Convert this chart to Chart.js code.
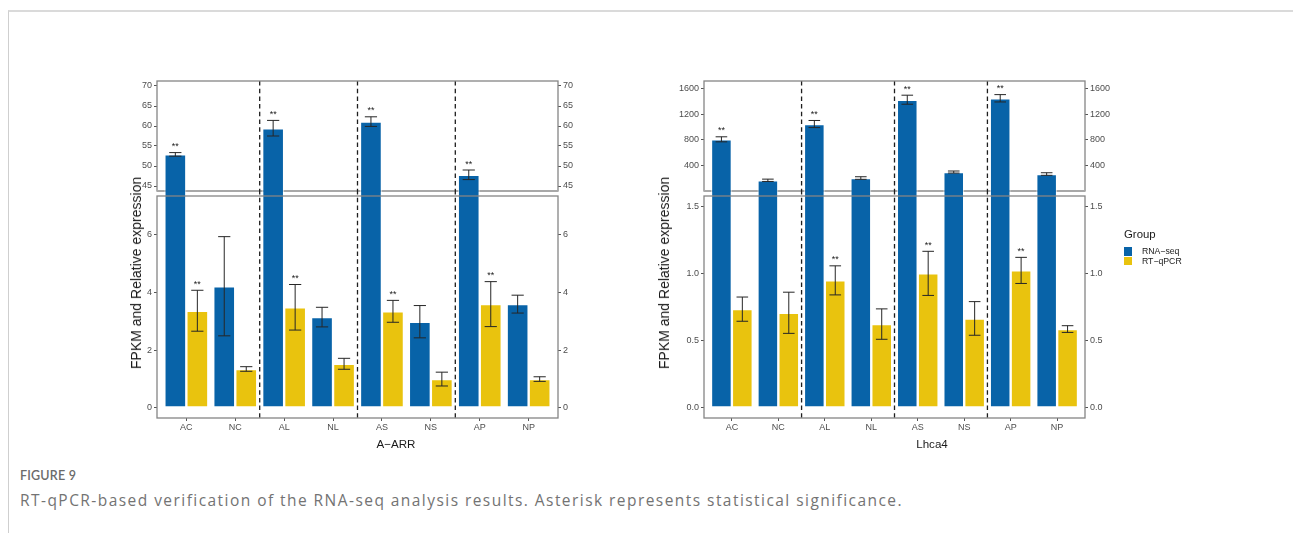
<!DOCTYPE html>
<html>
<head>
<meta charset="utf-8">
<script src="https://cdn.jsdelivr.net/npm/chart.js@4.4.1/dist/chart.umd.min.js"></script>
<style>
  html, body { margin: 0; padding: 0; background: #fff; }
  body { width: 1293px; height: 533px; position: relative; overflow: hidden;
         font-family: "Liberation Sans", Arial, sans-serif; }
  .frame { position: absolute; left: 8px; top: 10px; width: 1300px; height: 540px;
           border-top: 2px solid #dadada; border-left: 1px solid #cfcfcf; }
  canvas.panel { position: absolute; }
  .ytitle { position: absolute; font-size: 14px; line-height: 14px; color: #1a1a1a; white-space: nowrap;
            transform: translate(-50%, -50%) rotate(-90deg); }
  .xtitle { position: absolute; font-size: 11.6px; line-height: 12px; color: #1a1a1a; white-space: nowrap;
            transform: translate(-50%, -50%); }
  .legend { position: absolute; left: 1124px; top: 228px; color: #1a1a1a; }
  .legend .ttl { font-size: 11.4px; line-height: 13px; margin-bottom: 5.5px; }
  .legend .item { display: flex; align-items: center; height: 9.6px; font-size: 8.7px; }
  .legend .key { width: 8px; height: 8.6px; margin-right: 10px; }
  .figlabel { position: absolute; left: 20px; top: 468px; font-family: Lato, "Open Sans", sans-serif;
              font-size: 12.5px; font-weight: 600; color: #6b6b6b; letter-spacing: 0.2px; }
  .caption { position: absolute; left: 20px; top: 489px; font-family: "Open Sans", sans-serif;
             font-size: 15.5px; color: #737373; white-space: nowrap; }
</style>
</head>
<body>
<div class="frame"></div>

<canvas id="arrTop" class="panel"></canvas>
<canvas id="arrBottom" class="panel"></canvas>
<canvas id="lhcaTop" class="panel"></canvas>
<canvas id="lhcaBottom" class="panel"></canvas>

<div class="ytitle" style="left:136px; top:273px;">FPKM and Relative expression</div>
<div class="ytitle" style="left:664px; top:273px;">FPKM and Relative expression</div>
<div class="xtitle" style="left:396px; top:444px;">A−ARR</div>
<div class="xtitle" style="left:932px; top:444px;">Lhca4</div>

<div class="legend" id="legend"></div>

<div class="figlabel">FIGURE 9</div>
<div class="caption" id="caption">RT-qPCR-based verification of the RNA-seq analysis results. Asterisk represents statistical significance.</div>

<script>
// ---- data -------------------------------------------------------------
const categories = ['AC', 'NC', 'AL', 'NL', 'AS', 'NS', 'AP', 'NP'];
const seriesNames = ['RNA−seq', 'RT−qPCR'];
const seriesColors = ['#0863a8', '#e9c30e'];

// A-ARR
const arrRnaSeq     = [52.9, 4.22, 59.45, 3.15, 61.1, 2.99, 47.8, 3.60];
const arrRnaSeqErr  = [0.45, 1.72, 1.95, 0.34, 1.2, 0.56, 1.2, 0.31];
const arrRnaSeqSig  = ['**', '', '**', '', '**', '', '**', ''];
const arrQpcr       = [3.37, 1.35, 3.49, 1.53, 3.35, 1.00, 3.60, 1.00];
const arrQpcrErr    = [0.71, 0.08, 0.79, 0.19, 0.38, 0.24, 0.78, 0.08];
const arrQpcrSig    = ['**', '', '**', '', '**', '', '**', ''];
const arrTopTicks    = [45, 50, 55, 60, 65, 70];
const arrBottomTicks = [0, 2, 4, 6];

// Lhca4
const lhcaRnaSeq    = [809, 174, 1046, 209, 1423, 302, 1445, 271];
const lhcaRnaSeqErr = [39, 18, 55, 20, 70, 16, 57, 20];
const lhcaRnaSeqSig = ['**', '', '**', '', '**', '', '**', ''];
const lhcaQpcr      = [0.734, 0.707, 0.948, 0.623, 1.0, 0.665, 1.022, 0.586];
const lhcaQpcrErr   = [0.09, 0.153, 0.108, 0.113, 0.164, 0.125, 0.097, 0.025];
const lhcaQpcrSig   = ['', '', '**', '', '**', '', '**', ''];
const lhcaTopTicks    = [400, 800, 1200, 1600];
const lhcaBottomTicks = [0, 0.5, 1, 1.5];
const lhcaBottomTickLabels = ['0.0', '0.5', '1.0', '1.5'];

// vertical dashed separators sit between the pairs
const separators = [2.5, 4.5, 6.5];

// ---- drawing helpers ---------------------------------------------------
const FONT = '"Liberation Sans", Arial, sans-serif';
const TICK_COLOR = '#4d4d4d';

// error bars, significance marks, separators and the panel frame
const panelDecor = {
  id: 'panelDecor',
  afterDatasetsDraw(chart, args, o) {
    const { ctx, chartArea: a } = chart;
    const x = chart.scales.x, y = chart.scales.y;

    // dashed separators (may extend into the gap between stacked panels)
    ctx.save();
    ctx.beginPath();
    ctx.rect(a.left, a.top - o.extendTop, a.width, a.height + o.extendTop);
    ctx.clip();
    ctx.strokeStyle = '#1e1e1e';
    ctx.lineWidth = 1.3;
    ctx.setLineDash([4.5, 3.2]);
    separators.forEach(v => {
      const px = x.getPixelForValue(v);
      ctx.beginPath();
      ctx.moveTo(px, a.top - o.extendTop);
      ctx.lineTo(px, a.bottom);
      ctx.stroke();
    });
    ctx.restore();

    // error bars + asterisks, clipped to the panel
    ctx.save();
    ctx.beginPath();
    ctx.rect(a.left, a.top, a.width, a.height);
    ctx.clip();
    const half = x.getPixelForValue(1.125) - x.getPixelForValue(1);
    chart.data.datasets.forEach((ds, di) => {
      const meta = chart.getDatasetMeta(di);
      meta.data.forEach((bar, i) => {
        const v = ds.data[i].y, e = ds.errors[i];
        const yHi = y.getPixelForValue(v + e);
        const yLo = y.getPixelForValue(v - e);
        const bx = bar.x;
        ctx.strokeStyle = '#262626';
        ctx.lineWidth = 1;
        ctx.beginPath();
        ctx.moveTo(bx, yHi); ctx.lineTo(bx, yLo);
        ctx.moveTo(bx - half, yHi); ctx.lineTo(bx + half, yHi);
        ctx.moveTo(bx - half, yLo); ctx.lineTo(bx + half, yLo);
        ctx.stroke();
        // a mark belongs to this panel only when its error bar top is inside the range
        if (ds.marks[i] && v + e >= y.min && v + e <= y.max) {
          ctx.fillStyle = '#1a1a1a';
          ctx.font = '9px ' + FONT;
          ctx.textAlign = 'center';
          ctx.textBaseline = 'alphabetic';
          ctx.fillText(ds.marks[i], bx, yHi - 3.5);
        }
      });
    });
    ctx.restore();
  },
  afterDraw(chart, args, o) {
    const { ctx, chartArea: a } = chart;
    ctx.save();
    ctx.strokeStyle = o.frameColor;
    ctx.lineWidth = 1.3;
    ctx.strokeRect(a.left, a.top, a.width, a.height);
    if (o.bottomHeavy) {
      ctx.strokeStyle = '#a8a8a8';
      ctx.lineWidth = 2;
      ctx.beginPath();
      ctx.moveTo(a.left, a.bottom);
      ctx.lineTo(a.right, a.bottom);
      ctx.stroke();
    }
    ctx.restore();
  }
};

function buildDatasets(values, errors, marks, clip) {
  return values.map((vals, s) => ({
    label: seriesNames[s],
    data: vals.map((v, i) => ({ x: i + 1, y: v })),
    errors: errors[s],
    marks: marks[s],
    backgroundColor: seriesColors[s],
    borderColor: 'rgba(255,255,255,0.55)',
    borderWidth: 1.2,
    borderSkipped: false,
    categoryPercentage: 0.9,
    barPercentage: 1.0,
    clip
  }));
}

function yAxis(position, range, ticks, labels) {
  return {
    type: 'linear',
    position,
    min: range[0],
    max: range[1],
    beginAtZero: false,
    afterBuildTicks: s => { s.ticks = ticks.map(v => ({ value: v })); },
    afterFit: s => { s.width = 45; },
    border: { display: false },
    grid: { drawOnChartArea: false, drawTicks: true, tickLength: 3, color: '#555', lineWidth: 1 },
    ticks: {
      display: true,
      padding: 2,
      color: TICK_COLOR,
      font: { family: FONT, size: 9 },
      callback: (val, idx) => labels ? labels[idx] : String(val)
    }
  };
}

// plot rectangle = chart area in page pixels
function makePanel(id, plot, isBottom, values, errors, marks, range, ticks, labels) {
  const cv = document.getElementById(id);
  const padTop = 8;
  const padBottom = isBottom ? 0 : 8;
  const xHeight = isBottom ? 30 : 0;
  const w = plot.width + 90;
  const h = plot.height + padTop + padBottom + xHeight;
  cv.width = w; cv.height = h;
  cv.style.left = (plot.left - 45) + 'px';
  cv.style.top = (plot.top - padTop) + 'px';
  cv.style.width = w + 'px';
  cv.style.height = h + 'px';

  // lower panels let the tall bars run on into the gap above them
  const clip = isBottom ? { left: 0, right: 0, bottom: 0, top: 6 } : 0;
  const datasets = buildDatasets(values, errors, marks, clip);

  return new Chart(cv, {
    type: 'bar',
    data: { datasets },
    plugins: [panelDecor],
    options: {
      responsive: false,
      animation: false,
      devicePixelRatio: 1,
      layout: { padding: { top: padTop, bottom: padBottom, left: 0, right: 0 } },
      plugins: {
        legend: { display: false },
        tooltip: { enabled: false },
        panelDecor: {
          extendTop: isBottom ? 6 : 0,
          frameColor: '#858585',
          bottomHeavy: !isBottom
        }
      },
      scales: {
        x: {
          type: 'linear',
          min: 0.4,
          max: 8.6,
          offset: false,
          display: isBottom,
          afterBuildTicks: s => { s.ticks = categories.map((c, i) => ({ value: i + 1 })); },
          afterFit: s => { s.height = xHeight; },
          border: { display: false },
          grid: { offset: false, drawOnChartArea: false, drawTicks: true, tickLength: 3, color: '#555', lineWidth: 1 },
          ticks: {
            padding: 1.5,
            color: TICK_COLOR,
            font: { family: FONT, size: 9 },
            maxRotation: 0,
            autoSkip: false,
            callback: v => categories[Math.round(v) - 1]
          }
        },
        y: yAxis('left', range, ticks, labels),
        y2: yAxis('right', range, ticks, labels)
      }
    }
  });
}

// A-ARR panels
makePanel('arrTop', { left: 157, top: 81, width: 401, height: 110 }, false,
  [arrRnaSeq, arrQpcr], [arrRnaSeqErr, arrQpcrErr], [arrRnaSeqSig, arrQpcrSig],
  [43.75, 71.25], arrTopTicks, null);
makePanel('arrBottom', { left: 157, top: 196, width: 401, height: 222 }, true,
  [arrRnaSeq, arrQpcr], [arrRnaSeqErr, arrQpcrErr], [arrRnaSeqSig, arrQpcrSig],
  [-0.35, 7.35], arrBottomTicks, null);

// Lhca4 panels
makePanel('lhcaTop', { left: 704, top: 81, width: 381, height: 110 }, false,
  [lhcaRnaSeq, lhcaQpcr], [lhcaRnaSeqErr, lhcaQpcrErr], [lhcaRnaSeqSig, lhcaQpcrSig],
  [8, 1713], lhcaTopTicks, null);
makePanel('lhcaBottom', { left: 704, top: 196, width: 381, height: 222 }, true,
  [lhcaRnaSeq, lhcaQpcr], [lhcaRnaSeqErr, lhcaQpcrErr], [lhcaRnaSeqSig, lhcaQpcrSig],
  [-0.075, 1.575], lhcaBottomTicks, lhcaBottomTickLabels);

// legend
const legend = document.getElementById('legend');
legend.innerHTML = '<div class="ttl">Group</div>' + seriesNames.map((n, i) =>
  '<div class="item"><span class="key" style="background:' + seriesColors[i] + '"></span>' + n + '</div>').join('');

// caption spread across the text column
const cap = document.getElementById('caption');
const capText = cap.textContent;
const capW = cap.getBoundingClientRect().width;
cap.style.letterSpacing = ((883 - capW) / capText.length).toFixed(3) + 'px';
</script>
</body>
</html>
